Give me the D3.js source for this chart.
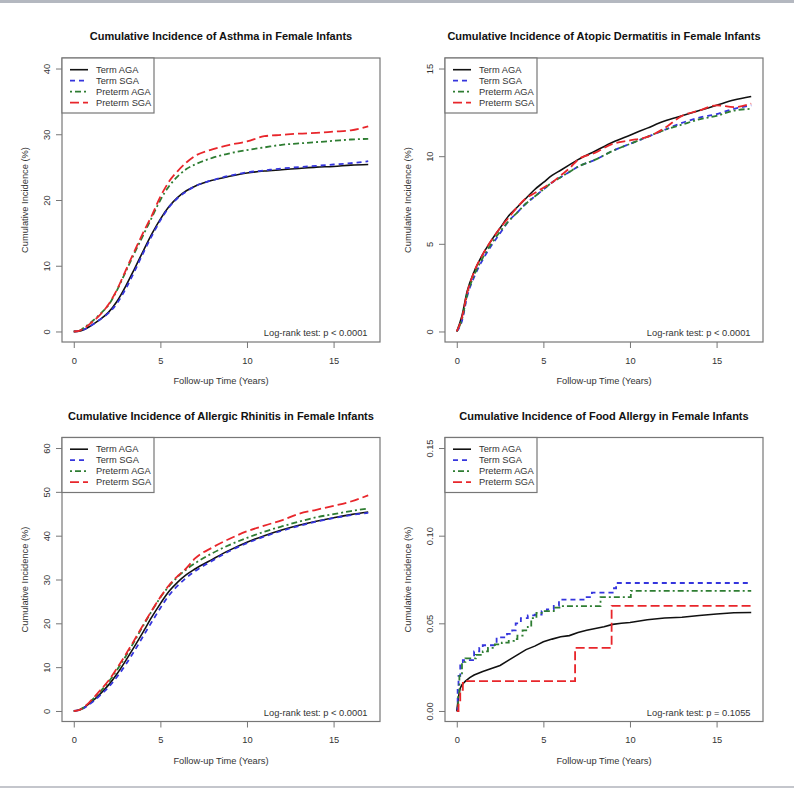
<!DOCTYPE html>
<html><head><meta charset="utf-8">
<script src="https://cdn.jsdelivr.net/npm/d3@7"></script>
<style>body{margin:0;background:#fff;} svg{display:block;font-family:"Liberation Sans",Arial,sans-serif;}</style>
</head><body><svg id="c" width="794" height="790"></svg>
<script>
// ---------------- DATA ----------------
const seriesNames = ["Term AGA", "Term SGA", "Preterm AGA", "Preterm SGA"];
const years = [0,0.3,0.6,1,1.5,2,2.5,3,3.5,4,4.5,5,5.5,6,6.5,7,8,9,10,11,12,13,14,15,16,17];

// Asthma
const asthmaTermAGA    = [0,0.05,0.3,0.9,1.8,2.9,4.6,6.9,9.5,12.2,14.8,17.1,19.0,20.4,21.4,22.1,23.0,23.6,24.1,24.4,24.6,24.8,25.0,25.1,25.3,25.4];
const asthmaTermSGA    = [0,0.05,0.3,0.9,1.8,2.8,4.3,6.5,9.1,11.9,14.5,16.9,18.9,20.3,21.3,22.1,23.0,23.7,24.2,24.5,24.8,25.0,25.2,25.4,25.6,25.9];
const asthmaPretermAGA = [0,0.1,0.6,1.4,2.6,4.0,6.3,9.1,11.9,14.6,17.3,20.0,22.1,23.6,24.7,25.4,26.4,27.1,27.6,28.0,28.4,28.6,28.8,29.0,29.2,29.3];
const asthmaPretermSGA = [0,0.1,0.5,1.3,2.5,4.1,6.4,9.3,12.2,15.0,17.6,20.5,22.8,24.4,25.7,26.7,27.7,28.4,28.9,29.7,29.9,30.1,30.2,30.4,30.6,31.2];

// Atopic dermatitis
const adTermAGA    = [0,0.9,2.3,3.4,4.4,5.2,5.9,6.6,7.1,7.6,8.1,8.5,8.9,9.2,9.5,9.8,10.3,10.8,11.2,11.6,12.0,12.3,12.6,12.9,13.2,13.4];
const adTermSGA    = [0,0.6,2.0,3.1,4.1,4.9,5.6,6.3,6.8,7.3,7.7,8.1,8.5,8.8,9.1,9.4,9.8,10.3,10.7,11.1,11.5,11.9,12.2,12.4,12.7,12.9];
const adPretermAGA = [0,0.7,2.1,3.2,4.2,5.0,5.7,6.3,6.8,7.3,7.7,8.1,8.5,8.8,9.1,9.4,9.8,10.3,10.7,11.1,11.5,11.8,12.1,12.3,12.6,12.7];
const adPretermSGA = [0,0.8,2.2,3.4,4.4,5.2,5.9,6.5,7.1,7.6,7.9,8.2,8.5,8.9,9.3,9.8,10.2,10.7,10.9,11.1,11.6,12.3,12.6,12.9,12.8,13.0];

// Allergic rhinitis
const arTermAGA    = [0,0.2,0.8,2.0,3.8,5.9,8.5,11.5,14.7,18.0,21.4,24.5,27.3,29.4,31.1,32.4,34.6,36.7,38.5,40.0,41.3,42.4,43.3,44.1,44.8,45.4];
const arTermSGA    = [0,0.2,0.7,1.8,3.5,5.4,7.8,10.6,13.7,17.0,20.3,23.5,26.4,28.6,30.4,31.9,34.3,36.5,38.3,39.8,41.1,42.2,43.2,44.0,44.7,45.2];
const arPretermAGA = [0,0.2,0.9,2.3,4.3,6.6,9.4,12.5,15.9,19.4,22.8,25.9,28.5,30.6,32.3,33.7,36.0,37.9,39.5,40.9,42.1,43.2,44.2,44.9,45.6,46.2];
const arPretermSGA = [0,0.2,0.9,2.4,4.6,6.9,9.8,12.9,16.2,19.6,22.9,26.0,28.7,30.8,32.6,34.8,37.3,39.3,41.0,42.3,43.5,45.0,45.9,46.8,47.8,49.2];

// Food allergy (own time points)
const faTermAGATimes  = [0,0.05,0.1,0.15,0.2,0.3,0.5,0.75,1,1.5,2,2.5,3,3.5,4,4.5,5,5.5,6,6.5,7,7.5,8,8.5,9,9.5,10,11,12,13,14,15,16,17];
const faTermAGA       = [0,0.004,0.008,0.011,0.013,0.015,0.017,0.019,0.0205,0.0225,0.0243,0.026,0.029,0.032,0.035,0.037,0.0395,0.041,0.0423,0.043,0.0448,0.046,0.047,0.048,0.0494,0.050,0.0505,0.052,0.053,0.0535,0.0545,0.0553,0.056,0.0562];
const faTermSGATimes  = [0,0.05,0.1,0.2,0.35,1.0,1.3,1.5,2.3,2.9,3.2,3.4,3.7,4.1,4.5,4.9,5.2,5.6,5.9,7.5,7.8,9.0,9.2,17];
const faTermSGA       = [0,0.012,0.02,0.026,0.029,0.034,0.036,0.0375,0.042,0.044,0.046,0.050,0.053,0.0545,0.055,0.057,0.058,0.060,0.0635,0.065,0.0675,0.070,0.073,0.073];
const faPretermAGATimes = [0,0.08,0.15,0.3,0.5,1.1,1.5,1.8,2.2,2.6,3.0,3.3,3.5,3.8,4.1,4.3,4.6,5.0,5.6,6.0,8.3,10.05,17];
const faPretermAGA      = [0,0.01,0.02,0.028,0.030,0.032,0.034,0.036,0.038,0.039,0.040,0.041,0.043,0.046,0.048,0.053,0.056,0.057,0.059,0.0598,0.065,0.0685,0.0685];
const faPretermSGATimes = [0,0.1,0.2,0.35,6.83,8.94,17];
const faPretermSGA      = [0,0.006,0.012,0.017,0.036,0.060,0.060];

const xTicks = [0,5,10,15];
const asthmaYTicks = [0,10,20,30,40];
const adYTicks = [0,5,10,15];
const arYTicks = [0,10,20,30,40,50,60];
const faYTicks = [0,0.05,0.10,0.15];
const faYTickLabels = ["0.00","0.05","0.10","0.15"];

const titles = [
  "Cumulative Incidence of Asthma in Female Infants",
  "Cumulative Incidence of Atopic Dermatitis in Female Infants",
  "Cumulative Incidence of Allergic Rhinitis in Female Infants",
  "Cumulative Incidence of Food Allergy in Female Infants"
];
const pTexts = ["Log-rank test: p < 0.0001","Log-rank test: p < 0.0001","Log-rank test: p < 0.0001","Log-rank test: p = 0.1055"];

// ---------------- STYLE ----------------
const colors = ["#111111", "#3535dd", "#2e7d32", "#e8262b"];
const dashes = [null, "5,4", "2,3,6,3", "9,4"];
const FS = 9.3;

const panels = [
  {ox:0, oy:0, ymax:40, ticks:asthmaYTicks, labels:null, step:false,
   series:[[years,asthmaTermAGA],[years,asthmaTermSGA],[years,asthmaPretermAGA],[years,asthmaPretermSGA]]},
  {ox:383, oy:0, ymax:15, ticks:adYTicks, labels:null, step:false,
   series:[[years,adTermAGA],[years,adTermSGA],[years,adPretermAGA],[years,adPretermSGA]]},
  {ox:0, oy:379.5, ymax:60, ticks:arYTicks, labels:null, step:false,
   series:[[years,arTermAGA],[years,arTermSGA],[years,arPretermAGA],[years,arPretermSGA]]},
  {ox:383, oy:379.5, ymax:0.15, ticks:faYTicks, labels:faYTickLabels, step:true,
   series:[[faTermAGATimes,faTermAGA],[faTermSGATimes,faTermSGA],[faPretermAGATimes,faPretermAGA],[faPretermSGATimes,faPretermSGA]]}
];

const svg = d3.select("#c");
svg.append("rect").attr("x",0).attr("y",0).attr("width",794).attr("height",3).attr("fill","#b4b8c0");
svg.append("rect").attr("x",0).attr("y",786).attr("width",794).attr("height",2).attr("fill","#c4c6cc");

const L=62, R=380, T=58, B=342;
const textCol = "#333";

panels.forEach((p,i)=>{
  const g = svg.append("g").attr("transform",`translate(${p.ox},${p.oy})`);
  const x = d3.scaleLinear().domain([-0.68, 17.68]).range([L,R]);
  const ypad = p.ymax*0.04;
  const y = d3.scaleLinear().domain([-ypad, p.ymax+ypad]).range([B,T]);

  g.append("text").attr("x",(L+R)/2).attr("y",40).attr("text-anchor","middle")
    .attr("font-size",11).attr("font-weight","bold").attr("fill","#111").text(titles[i]);

  const xa = g.append("g").attr("transform",`translate(0,${B})`)
    .call(d3.axisBottom(x).tickValues(xTicks).tickSize(6).tickPadding(9).tickFormat(d3.format("d")));
  const ya = g.append("g").attr("transform",`translate(${L},0)`)
    .call(d3.axisLeft(y).tickValues(p.ticks).tickSize(6)
      .tickFormat((d,k)=> p.labels ? p.labels[k] : d3.format("d")(d)));
  [xa,ya].forEach(a=>{
    a.select(".domain").remove();
    a.selectAll("line").attr("stroke","#777");
    a.selectAll("text").attr("font-size",FS).attr("fill",textCol).attr("font-family","Liberation Sans, Arial, sans-serif");
  });
  ya.selectAll(".tick text").attr("transform","translate(-15,0) rotate(-90)")
    .attr("y",0).attr("x",0).attr("dy","0.35em").attr("text-anchor","middle");

  g.append("text").attr("x",(L+R)/2).attr("y",381).attr("dy","0.35em").attr("text-anchor","middle")
    .attr("font-size",FS).attr("fill",textCol).text("Follow-up Time (Years)");
  g.append("text").attr("transform",`translate(25,${(T+B)/2}) rotate(-90)`).attr("dy","0.35em").attr("text-anchor","middle")
    .attr("font-size",FS).attr("fill",textCol).text("Cumulative Incidence (%)");

  const cid = "clip"+i;
  g.append("clipPath").attr("id",cid).append("rect").attr("x",L).attr("y",T).attr("width",R-L).attr("height",B-T);

  const lg = g.append("g").attr("clip-path",`url(#${cid})`);
  p.series.forEach((s,k)=>{
    const curve = p.step ? (k===0 ? d3.curveLinear : d3.curveStepAfter) : d3.curveMonotoneX;
    const line = d3.line().x(d=>x(d[0])).y(d=>y(d[1])).curve(curve);
    const pts = s[0].map((t,j)=>[t,s[1][j]]);
    lg.append("path").attr("d",line(pts)).attr("fill","none")
      .attr("stroke",colors[k]).attr("stroke-width",k===0?1.6:1.8)
      .attr("stroke-dasharray",dashes[k]);
  });

  g.append("rect").attr("x",L).attr("y",T).attr("width",R-L).attr("height",B-T)
    .attr("fill","none").attr("stroke","#777").attr("stroke-width",1.2);

  g.append("rect").attr("x",L).attr("y",T).attr("width",92).attr("height",55)
    .attr("fill","#fff").attr("stroke","#777").attr("stroke-width",1.2);
  seriesNames.forEach((n,k)=>{
    const yy = T + 11.7 + k*11;
    g.append("line").attr("x1",L+8).attr("x2",L+26).attr("y1",yy).attr("y2",yy)
      .attr("stroke",colors[k]).attr("stroke-width",k===0?1.6:1.8).attr("stroke-dasharray",dashes[k]);
    g.append("text").attr("x",L+34).attr("y",yy).attr("dy","0.35em").attr("font-size",FS)
      .attr("fill",textCol).text(n);
  });

  g.append("text").attr("x",R-12.5).attr("y",B-9).attr("dy","0.35em").attr("text-anchor","end")
    .attr("font-size",FS).attr("fill",textCol).text(pTexts[i]);
});
</script>
</body></html>
